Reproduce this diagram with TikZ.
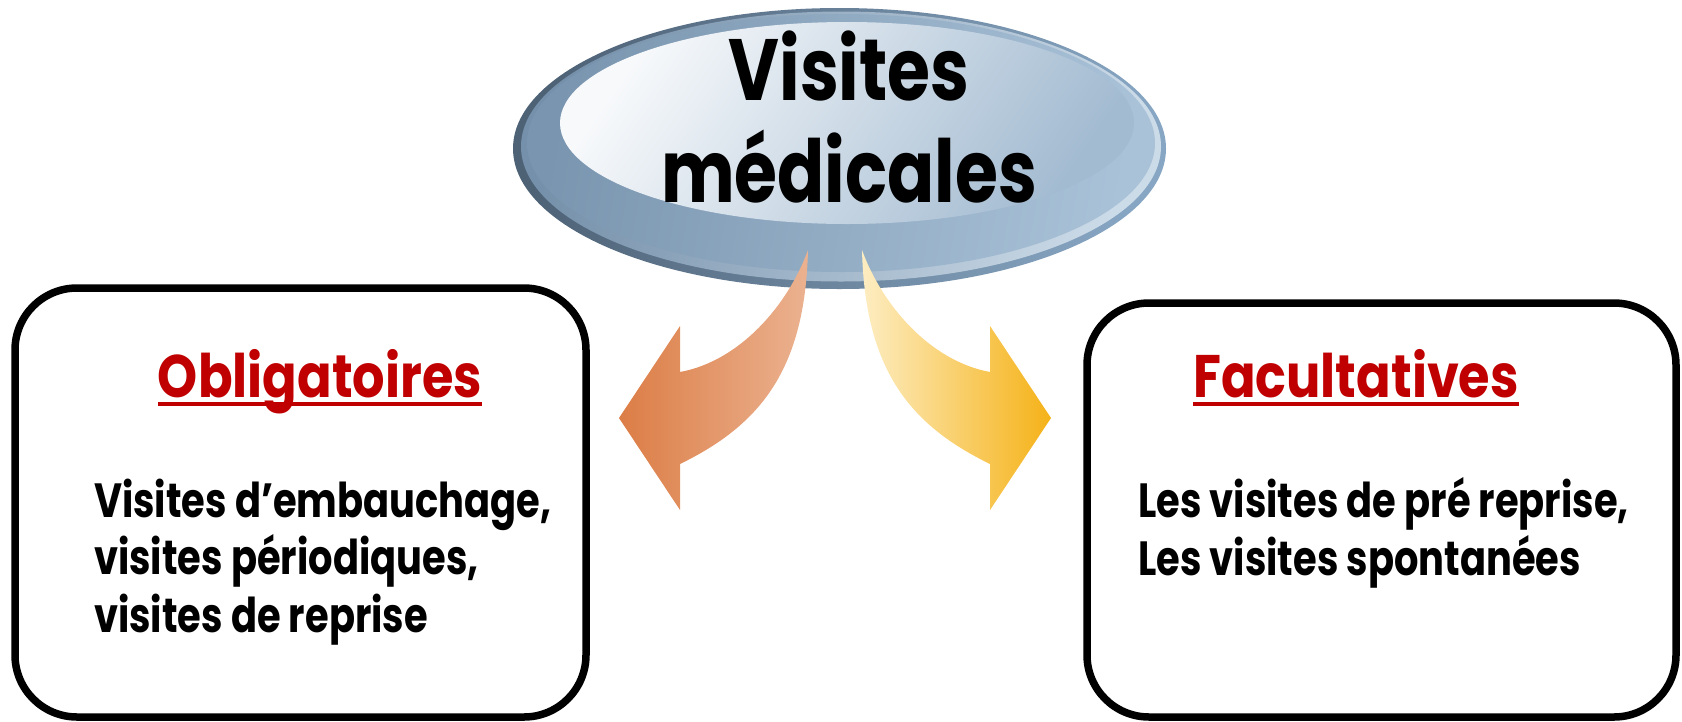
\documentclass[tikz,border=0pt]{standalone}
\usepackage{fontspec}
\newfontfamily\fut[FakeStretch=0.80]{Poppins}
\newfontfamily\futh[FakeStretch=0.85]{Poppins}
\definecolor{hred}{HTML}{C00000}
\definecolor{rimA}{HTML}{4E6276}
\definecolor{rimB}{HTML}{87A6C3}
\definecolor{bandA}{HTML}{7590AA}
\definecolor{bandB}{HTML}{CCDBE8}
\definecolor{bodyA}{HTML}{7A95AF}
\definecolor{bodyB}{HTML}{A9C2D8}
\definecolor{hiA}{HTML}{F7F9FB}
\definecolor{hiB}{HTML}{A3BBD1}
\definecolor{orA}{HTML}{DC7D46}
\definecolor{orB}{HTML}{EBB290}
\definecolor{yeA}{HTML}{FDEDC2}
\definecolor{yeB}{HTML}{F5B218}
\begin{document}
\begin{tikzpicture}[x=1pt,y=-1pt,
  box/.style={draw=black, line width=7.5pt, rounded corners=62pt, fill=white, inner sep=0pt},
  ttl/.style={font=\fut\bfseries\fontsize{87}{100}\selectfont, inner sep=0pt, anchor=base},
  head/.style={font=\futh\bfseries\fontsize{60}{64}\selectfont, text=hred, inner sep=0pt, anchor=base},
  body/.style={font=\fut\bfseries\fontsize{48}{57}\selectfont, inner sep=0pt, anchor=base west},
  uline/.style={draw=hred, line width=4pt}]
\useasboundingbox (0,0) rectangle (1682,721);
% boxes
\node[box, minimum width=571pt, minimum height=429pt] (lbox) at (300.5,502.5) {};
\node[box, minimum width=589pt, minimum height=414pt] (rbox) at (1381.5,510) {};
% ellipse
\shade[left color=rimA, right color=rimB, shading angle=80] (839.5,148.5) ellipse [x radius=326.5pt, y radius=140.5pt];
\shade[left color=bandA, right color=bandB, shading angle=75] (841,146.5) ellipse [x radius=320pt, y radius=135pt];
\shade[left color=bodyA, right color=bodyB, shading angle=80] (841,143) ellipse [x radius=314pt, y radius=129pt];
\shade[top color=hiA, bottom color=hiB, shading angle=55] (847,123) ellipse [x radius=287pt, y radius=101pt];
% titles
\node[ttl] (t1) at (849,100) {Visites};
\node[ttl] (t2) at (849,202) {médicales};
% arrows
\shade[left color=orA, right color=orB] (619,418) -- (680,326) -- (680,372)
  .. controls (740,361) and (788,305) .. (808,250)
  .. controls (805,370) and (760,425) .. (680,464) -- (680,510) -- cycle;
\shade[left color=yeA, right color=yeB] (1051,418) -- (990,326) -- (990,372)
  .. controls (930,361) and (882,305) .. (862,250)
  .. controls (865,370) and (910,425) .. (990,464) -- (990,510) -- cycle;
% headings
\node[head] (h1) at (320,397) {Obligatoires};
\draw[uline] ([yshift=-7pt]h1.base west) -- ([yshift=-7pt]h1.base east);
\node[head] (h2) at (1356,397) {Facultatives};
\draw[uline] ([yshift=-7pt]h2.base west) -- ([yshift=-7pt]h2.base east);
% body text
\node[body] (l1) at (94,517) {Visites d’embauchage,};
\node[body] (l2) at (94,574) {visites périodiques,};
\node[body] (l3) at (94,632) {visites de reprise};
\node[body] (r1) at (1138,517) {Les visites de pré reprise,};
\node[body] (r2) at (1138,575) {Les visites spontanées};
\end{tikzpicture}
\end{document}
